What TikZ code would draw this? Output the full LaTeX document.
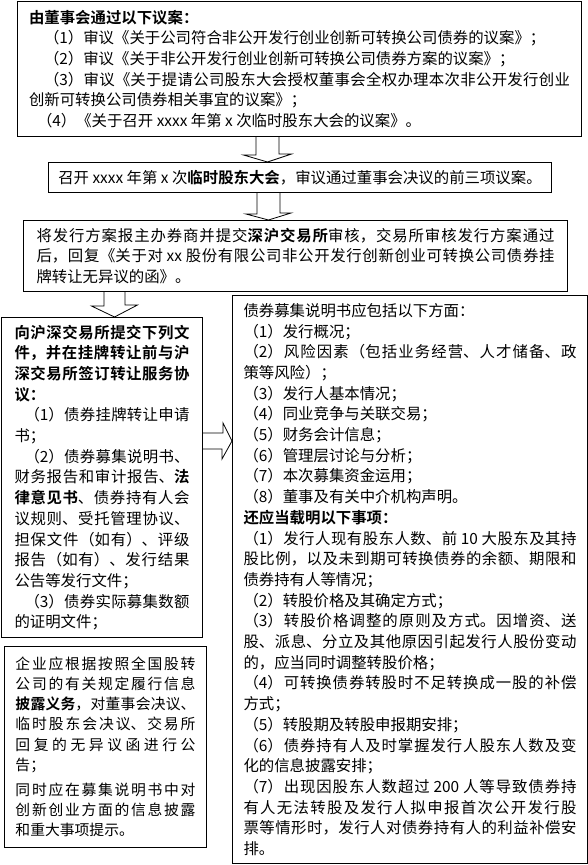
\documentclass[tikz,border=0pt]{standalone}
\usepackage{fontspec}
\setmainfont{Noto Sans CJK SC}[BoldFont={Noto Sans CJK SC Bold}]
\usepackage{tikz}
\usetikzlibrary{positioning}
\XeTeXlinebreaklocale "zh"
\XeTeXlinebreakskip=0pt plus 4pt
\setlength{\parindent}{0pt}
\newcommand\wuhao{\fontsize{15.4}{20.7}\selectfont}
\newcommand\xiaowu{\fontsize{14.8}{20.2}\selectfont}

\begin{document}
\begin{tikzpicture}[x=1pt, y=-1pt,
  box/.style={draw, line width=1pt, anchor=north west, inner sep=0pt, font=\wuhao},
  hollow/.style={draw, line width=.8pt}]
\useasboundingbox (0,0) rectangle (588,865);
% axes of the block arrows
\coordinate (c1) at (267.5,0);
\coordinate (c2) at (268.5,0);
\coordinate (c3) at (114.5,0);
\coordinate (c4) at (0,441);

\node[box, minimum width=564pt, minimum height=135pt, text width=541pt, align=justify] (board) at (17,1) {%
{\bfseries 由董事会通过以下议案：}\\
\hspace*{15pt}（1）审议《关于公司符合非公开发行创业创新可转换公司债券的议案》；\\
\hspace*{15pt}（2）审议《关于非公开发行创业创新可转换公司债券方案的议案》；\\
\hspace*{15pt}（3）审议《关于提请公司股东大会授权董事会全权办理本次非公开发行创业\linebreak
创新可转换公司债券相关事宜的议案》；\\
\hspace*{8pt}（4）《关于召开 xxxx 年第 x 次临时股东大会的议案》。};

\node[box, minimum width=503pt, minimum height=30pt] (meeting) at (48,162)
  {召开 xxxx 年第 x 次{\bfseries 临时股东大会}，审议通过董事会决议的前三项议案。};

\node[box, minimum width=544pt, minimum height=71pt, text width=518pt, align=justify] (exchange) at (23,220) {%
将发行方案报主办券商并提交{\bfseries 深沪交易所}审核，交易所审核发行方案通过\linebreak
后，回复《关于对 xx 股份有限公司非公开发行创新创业可转换公司债券挂\linebreak
牌转让无异议的函》。};

\node[box, minimum width=201pt, minimum height=320pt, text width=175pt, align=justify] (docs) at (1,317) {%
{\bfseries 向沪深交易所提交下列文\linebreak 件，并在挂牌转让前与沪\linebreak 深交易所签订转让服务协\linebreak 议：}\\
\hspace*{10pt}（1）债券挂牌转让申请\linebreak
书；\\
\hspace*{10pt}（2）债券募集说明书、\linebreak
财务报告和审计报告、{\bfseries 法\linebreak 律意见书}、债券持有人会\linebreak
议规则、受托管理协议、\linebreak
担保文件（如有）、评级\linebreak
报告（如有）、发行结果\linebreak
公告等发行文件；\\
\hspace*{10pt}（3）债券实际募集数额\linebreak
的证明文件；};

\node[box, font=\xiaowu, minimum width=202pt, minimum height=201pt, text width=180pt, align=justify] (disclose) at (4,646) {%
企业应根据按照全国股转\linebreak
公司的有关规定履行信息\linebreak
{\bfseries 披露义务}，对董事会决议、\linebreak
临时股东会决议、交易所\linebreak
回复的无异议函进行公\linebreak
告；\\[5pt]
同时应在募集说明书中对\linebreak
创新创业方面的信息披露\linebreak
和重大事项提示。};

\node[box, minimum width=355pt, minimum height=568pt, text width=333pt, align=justify] (prospectus) at (232,295) {%
债券募集说明书应包括以下方面：\\
（1）发行概况；\\
（2）风险因素（包括业务经营、人才储备、政\linebreak
策等风险）；\\
（3）发行人基本情况；\\
（4）同业竞争与关联交易；\\
（5）财务会计信息；\\
（6）管理层讨论与分析；\\
（7）本次募集资金运用；\\
（8）董事及有关中介机构声明。\\
{\bfseries 还应当载明以下事项：}\\
（1）发行人现有股东人数、前 10 大股东及其持\linebreak
股比例，以及未到期可转换债券的余额、期限和\linebreak
债券持有人等情况；\\
（2）转股价格及其确定方式；\\
（3）转股价格调整的原则及方式。因增资、送\linebreak
股、派息、分立及其他原因引起发行人股份变动\linebreak
的，应当同时调整转股价格；\\
（4）可转换债券转股时不足转换成一股的补偿\linebreak
方式；\\
（5）转股期及转股申报期安排；\\
（6）债券持有人及时掌握发行人股东人数及变\linebreak
化的信息披露安排；\\
（7）出现因股东人数超过 200 人等导致债券持\linebreak
有人无法转股及发行人拟申报首次公开发行股\linebreak
票等情形时，发行人对债券持有人的利益补偿安\linebreak
排。};

% block arrows
\draw[hollow] (board.south -| c1) ++(-11.5,0) -- ++(0,18) -- ++(-12.5,0) -- (meeting.north -| c1) -- ++(24,-8) -- ++(-12.5,0) -- ++(0,-18) ;
\draw[hollow] (meeting.south -| c2) ++(-11.5,0) -- ++(0,21) -- ++(-11,0) -- (exchange.north -| c2) -- ++(22.5,-7) -- ++(-11,0) -- ++(0,-21) ;
\draw[hollow] (exchange.south -| c3) ++(-10.5,0) -- ++(0,14) -- ++(-12.5,0) -- (docs.north -| c3) -- ++(23,-12) -- ++(-12.5,0) -- ++(0,-14) ;
\draw[hollow] (docs.east |- c4) ++(0,-8) -- ++(20,0) -- ++(0,-10) -- (prospectus.west |- c4) -- ++(-10,18) -- ++(0,-10) -- ++(-20,0) ;
\end{tikzpicture}
\end{document}
